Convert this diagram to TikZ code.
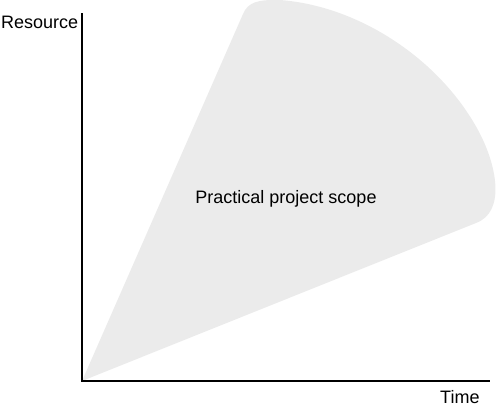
\documentclass[tikz,border=0pt]{standalone}
\usepackage{fontspec}
\setmainfont{Liberation Sans}
\definecolor{scopegray}{HTML}{EBEBEB}
\begin{document}
\begin{tikzpicture}[x=1pt,y=-1pt,
  axis/.style={line width=1.3pt,black},
  lbl/.style={inner sep=0pt,font=\fontsize{18}{21}\selectfont}]
\useasboundingbox (0,0) rectangle (500,408);
\coordinate (o) at (82,381);
\coordinate (ytop) at (82,13);
\coordinate (xend) at (490,381);
\fill[scopegray] (o) -- (243,14)
  .. controls (248,2) and (258,-0.5) .. (280,0)
  .. controls (360,6) and (440,60) .. (478,130)
  .. controls (497,165) and (506,212) .. (476,223)
  -- cycle;
\draw[axis] (ytop) -- (o) -- (xend);
\node[lbl,anchor=base west] (res) at (1,28) {Resource};
\node[lbl,anchor=base west] (time) at (440,403) {Time};
\node[lbl,anchor=base] (scope) at (286,203) {Practical project scope};
\end{tikzpicture}
\end{document}
